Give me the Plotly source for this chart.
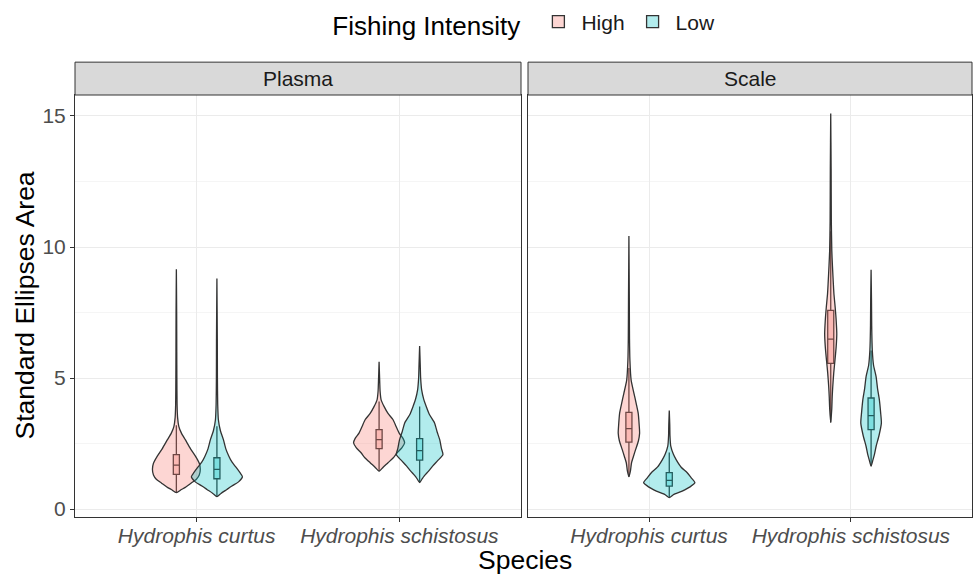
import plotly.graph_objects as go

# ---------------- data ----------------
species = ["Hydrophis curtus", "Hydrophis schistosus"]
tissues = ["Plasma", "Scale"]
groups = ["High", "Low"]

# violin profiles: y levels (SEA) and half-widths (x-axis units), bottom -> top
pc_high_y = [0.63, 0.75, 0.83, 1.0, 1.14, 1.3, 1.52, 1.75, 2.02, 2.3, 2.65, 2.9, 3.16, 3.5, 4.0, 5.0, 6.0, 7.5, 9.15]
pc_high_w = [0.0, 0.025, 0.044, 0.074, 0.099, 0.113, 0.118, 0.113, 0.094, 0.070, 0.044, 0.025, 0.012, 0.006, 0.0035, 0.0025, 0.002, 0.0015, 0.0]
pc_low_y = [0.48, 0.6, 0.75, 0.88, 1.05, 1.24, 1.4, 1.6, 1.8, 2.02, 2.3, 2.65, 3.0, 3.4, 4.0, 5.0, 6.5, 8.8]
pc_low_w = [0.0, 0.020, 0.049, 0.074, 0.108, 0.126, 0.113, 0.094, 0.074, 0.059, 0.044, 0.032, 0.017, 0.0074, 0.0039, 0.0025, 0.002, 0.0]
ps_high_y = [1.45, 1.6, 1.77, 1.95, 2.15, 2.35, 2.53, 2.7, 2.9, 3.15, 3.41, 3.65, 3.91, 4.17, 4.5, 5.0, 5.62]
ps_high_w = [0.0, 0.020, 0.044, 0.069, 0.089, 0.113, 0.126, 0.118, 0.099, 0.084, 0.069, 0.044, 0.025, 0.010, 0.005, 0.0025, 0.0]
ps_low_y = [1.01, 1.15, 1.26, 1.45, 1.64, 1.85, 2.08, 2.3, 2.65, 2.95, 3.28, 3.6, 3.91, 4.2, 4.55, 5.0, 5.5, 6.22]
ps_low_w = [0.0, 0.012, 0.022, 0.044, 0.064, 0.089, 0.115, 0.108, 0.099, 0.086, 0.074, 0.049, 0.033, 0.020, 0.010, 0.005, 0.003, 0.0]
sc_high_y = [1.24, 1.45, 1.77, 2.0, 2.27, 2.6, 2.9, 3.2, 3.66, 4.0, 4.42, 4.92, 5.68, 6.5, 8.0, 10.42]
sc_high_w = [0.0, 0.0074, 0.013, 0.022, 0.033, 0.047, 0.053, 0.051, 0.046, 0.037, 0.025, 0.011, 0.005, 0.003, 0.002, 0.0]
sc_low_y = [0.44, 0.55, 0.69, 0.85, 1.01, 1.2, 1.39, 1.6, 1.89, 2.1, 2.4, 2.8, 3.2, 3.76]
sc_low_w = [0.0, 0.020, 0.064, 0.103, 0.127, 0.108, 0.089, 0.059, 0.034, 0.020, 0.0074, 0.0035, 0.0025, 0.0]
ss_high_y = [3.31, 3.8, 4.3, 4.67, 5.2, 5.68, 6.2, 6.69, 7.2, 7.7, 8.2, 8.6, 9.3, 9.85, 11.0, 13.0, 15.09]
ss_high_w = [0.0, 0.005, 0.0074, 0.010, 0.015, 0.021, 0.027, 0.030, 0.027, 0.022, 0.016, 0.013, 0.0084, 0.0054, 0.003, 0.002, 0.0]
ss_low_y = [1.64, 1.9, 2.1, 2.4, 2.8, 3.28, 3.7, 4.17, 4.6, 5.05, 5.5, 6.06, 7.0, 8.0, 9.13]
ss_low_w = [0.0, 0.0099, 0.017, 0.025, 0.039, 0.051, 0.047, 0.041, 0.032, 0.025, 0.012, 0.006, 0.003, 0.002, 0.0]

# box statistics per violin (estimated)
box_q1 = [1.33, 1.16, 2.31, 1.87, 2.56, 0.88, 5.56, 3.03]
box_med = [1.68, 1.52, 2.65, 2.23, 3.07, 1.10, 6.49, 3.57]
box_q3 = [2.08, 1.96, 3.03, 2.69, 3.69, 1.39, 7.58, 4.24]
box_lo = [0.63, 0.48, 1.45, 1.01, 1.24, 0.44, 3.31, 1.64]
box_hi = [3.20, 3.16, 4.11, 3.92, 5.38, 2.16, 10.6, 6.05]

violins = [
    ("Plasma", 0, "High", pc_high_y, pc_high_w),
    ("Plasma", 0, "Low", pc_low_y, pc_low_w),
    ("Plasma", 1, "High", ps_high_y, ps_high_w),
    ("Plasma", 1, "Low", ps_low_y, ps_low_w),
    ("Scale", 0, "High", sc_high_y, sc_high_w),
    ("Scale", 0, "Low", sc_low_y, sc_low_w),
    ("Scale", 1, "High", ss_high_y, ss_high_w),
    ("Scale", 1, "Low", ss_low_y, ss_low_w),
]

# ---------------- style ----------------
fill = {"High": "rgba(248,118,109,0.3)", "Low": "rgba(0,191,196,0.3)"}
dodge = {"High": -0.1, "Low": 0.1}
axis_of = {"Plasma": ("x", "y"), "Scale": ("x2", "y2")}
FONT = "Liberation Sans, Arial, sans-serif"
OUT = "#333333"

fig = go.Figure()
shown = set()
for i, (tissue, si, grp, ys, ws) in enumerate(violins):
    xa, ya = axis_of[tissue]
    c = si + 1 + dodge[grp]
    px = [c + w for w in ws] + [c - w for w in reversed(ws)]
    py = list(ys) + list(reversed(ys))
    fig.add_trace(go.Scatter(
        x=px, y=py, xaxis=xa, yaxis=ya, mode="lines", fill="toself",
        fillcolor=fill[grp], line=dict(color=OUT, width=1.3, shape="spline", smoothing=0.6),
        hoverinfo="skip", showlegend=False))
for i, (tissue, si, grp, ys, ws) in enumerate(violins):
    xa, ya = axis_of[tissue]
    c = si + 1 + dodge[grp]
    fig.add_trace(go.Box(
        x=[c], q1=[box_q1[i]], median=[box_med[i]], q3=[box_q3[i]],
        lowerfence=[box_lo[i]], upperfence=[box_hi[i]],
        xaxis=xa, yaxis=ya, width=0.03, whiskerwidth=0,
        fillcolor=fill[grp], line=dict(color=OUT, width=1.3),
        boxpoints=False, name=grp, legendgroup=grp,
        showlegend=grp not in shown))
    shown.add(grp)

W, H = 973, 574
ML, MR, MT, MB = 75, 1, 93, 57
pw = W - ML - MR
ph = H - MT - MB
d1 = [0, 446 / pw]
d2 = [453 / pw, 1]
yr = [-0.3, 15.8]

xcommon = dict(range=[0.4, 2.6], tickvals=[1, 2],
               ticktext=["<i>%s</i>" % s for s in species],
               showgrid=True, gridcolor="#EBEBEB", gridwidth=1,
               showline=True, mirror=True, linecolor=OUT, linewidth=1,
               ticks="outside", ticklen=4, tickcolor=OUT, ticklabelstandoff=-4,
               tickfont=dict(family=FONT, size=21, color="#4D4D4D"),
               zeroline=False)
ycommon = dict(range=yr, tickvals=[0, 5, 10, 15],
               showgrid=True, gridcolor="#EBEBEB", gridwidth=1,
               minor=dict(tickvals=[2.5, 7.5, 12.5], showgrid=True, gridcolor="#F5F5F5", gridwidth=1),
               showline=True, mirror=True, linecolor=OUT, linewidth=1,
               zeroline=False)

fig.update_layout(
    width=W, height=H,
    margin=dict(l=ML, r=MR, t=MT, b=MB),
    plot_bgcolor="white", paper_bgcolor="white",
    font=dict(family=FONT, color="#1A1A1A"),
    xaxis=dict(domain=d1, anchor="y", **xcommon),
    xaxis2=dict(domain=d2, anchor="y2", **xcommon),
    yaxis=dict(domain=[0, 1], anchor="x", ticks="outside", ticklen=4, tickcolor=OUT,
               tickfont=dict(family=FONT, size=21, color="#4D4D4D"), **ycommon),
    yaxis2=dict(domain=[0, 1], anchor="x2", matches="y", showticklabels=False, ticks="", **ycommon),
    boxmode="overlay",
    showlegend=True,
    legend=dict(orientation="h", x=0.502, xanchor="center", y=(H - MB + 1) / ph, yanchor="top",
                title=dict(text="Fishing Intensity ", font=dict(size=26, family=FONT, color="#000000"), side="left"),
                font=dict(size=21, family=FONT, color="#1A1A1A"),
                itemwidth=36,
                bgcolor="rgba(0,0,0,0)"),
)

# facet strips
strip_top = 1 + 33 / ph
for xa, label in [("x", "Plasma"), ("x2", "Scale")]:
    fig.add_shape(type="rect", xref=xa + " domain", yref="paper", x0=0, x1=1, y0=1, y1=strip_top,
                  fillcolor="#D9D9D9", line=dict(color=OUT, width=1), layer="above")
    fig.add_annotation(xref=xa + " domain", yref="paper", x=0.5, y=(1 + strip_top) / 2,
                       text=label, showarrow=False, xanchor="center", yanchor="middle",
                       font=dict(family=FONT, size=21, color="#1A1A1A"))

# axis titles
fig.add_annotation(xref="paper", yref="paper", x=0, xshift=24.5 - ML, y=0.5, textangle=-90,
                   text="Standard Ellipses Area", showarrow=False, xanchor="center", yanchor="middle",
                   font=dict(family=FONT, size=26.5, color="#000000"))
fig.add_annotation(xref="paper", yref="paper", x=0.5, xshift=1.5, y=(H - MB - 560) / ph,
                   text="Species", showarrow=False, xanchor="center", yanchor="middle",
                   font=dict(family=FONT, size=26.5, color="#000000"))

fig.write_html("out.html", config={"displayModeBar": False},
               post_script="document.body.style.margin='0px';")
